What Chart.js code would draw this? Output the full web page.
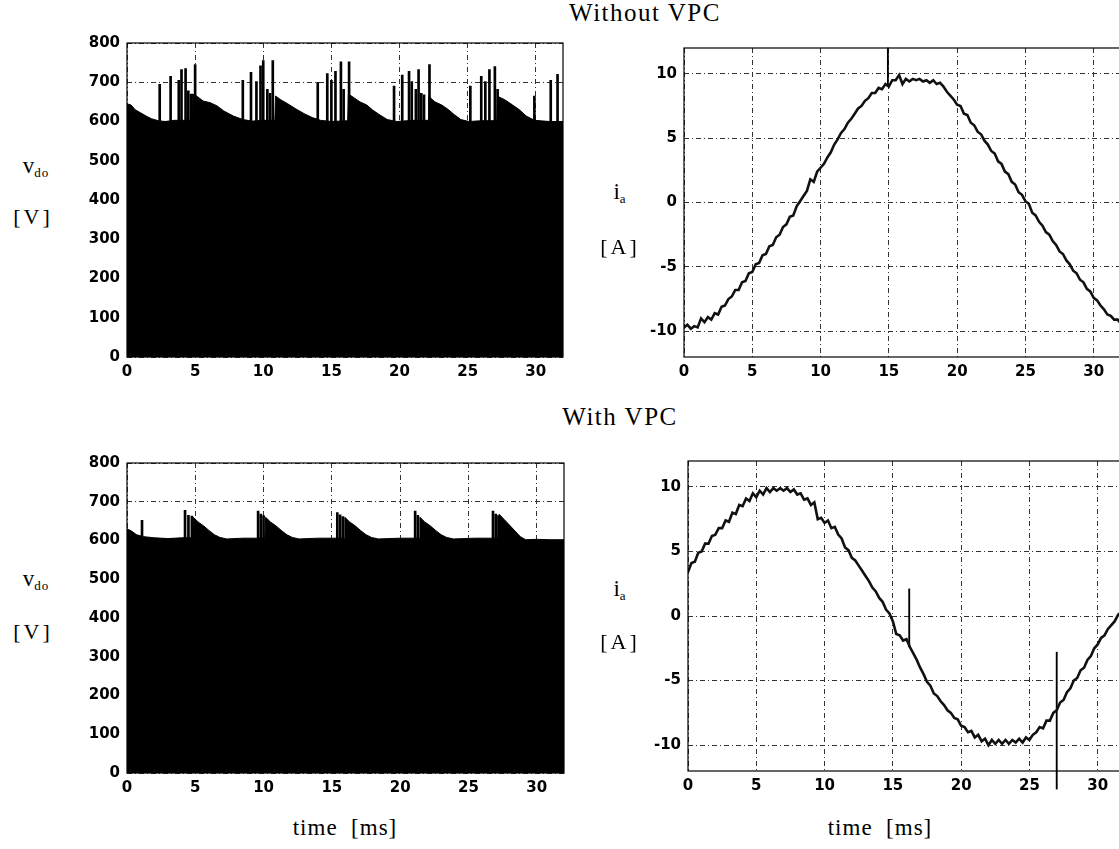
<!DOCTYPE html>
<html>
<head>
<meta charset="utf-8">
<script src="https://cdn.jsdelivr.net/npm/chart.js@4.4.1/dist/chart.umd.min.js"></script>
<style>
html, body { margin: 0; padding: 0; background: #fff; overflow: hidden; width: 1119px; height: 849px; position: relative; }
canvas { position: absolute; }
.t { position: absolute; font-family: "Liberation Serif", "DejaVu Serif", serif; color: #000; white-space: nowrap; transform: translate(-50%, -50%); }
.title { font-size: 25px; letter-spacing: 1.5px; }
.xl { font-size: 23px; letter-spacing: 1px; }
.unit { font-size: 22px; letter-spacing: 3px; }
.sym { font-size: 23px; }
.sym sub { font-size: 13px; vertical-align: -4px; letter-spacing: 1px; }
</style>
</head>
<body>
<div class="t title" style="left:645px;top:13px">Without VPC</div>
<div class="t title" style="left:620px;top:417px">With VPC</div>

<canvas id="vdo1" width="496" height="360" style="left:77px;top:27px"></canvas>
<canvas id="ia1" width="497" height="355" style="left:634px;top:32px"></canvas>
<canvas id="vdo2" width="497" height="356" style="left:77px;top:447px"></canvas>
<canvas id="ia2" width="497" height="356" style="left:638px;top:445px"></canvas>

<div class="t sym" style="left:36px;top:167px">v<sub>do</sub></div>
<div class="t unit" style="left:33px;top:217px">[V]</div>
<div class="t sym" style="left:620px;top:193px">i<sub>a</sub></div>
<div class="t unit" style="left:620px;top:247px">[A]</div>
<div class="t sym" style="left:36px;top:580px">v<sub>do</sub></div>
<div class="t unit" style="left:33px;top:632px">[V]</div>
<div class="t sym" style="left:620px;top:590px">i<sub>a</sub></div>
<div class="t unit" style="left:620px;top:642px">[A]</div>

<div class="t xl" style="left:345px;top:828px">time&nbsp; [ms]</div>
<div class="t xl" style="left:880px;top:828px">time&nbsp; [ms]</div>

<script>
// axis ticks
const xTicks = [0, 5, 10, 15, 20, 25, 30];
const vTicks = [0, 100, 200, 300, 400, 500, 600, 700, 800];
const iTicks = [-10, -5, 0, 5, 10];

// without VPC: dc voltage envelope [ms], [V]
const vdo1T = [0, 0.3, 0.6, 1.0, 1.4, 1.8, 2.3, 2.8, 3.5, 4.3, 4.75, 4.8, 5.1, 5.6, 6.1, 6.6, 7.1, 7.8, 8.5, 9.2,
  10.0, 10.85, 10.9, 11.3, 11.8, 12.4, 13.0, 13.6, 14.2, 15.0, 16.2, 16.25, 16.6, 17.1, 17.6, 18.0, 18.5, 19.1, 19.8, 21.0,
  22.1, 22.15, 22.6, 23.1, 23.6, 24.0, 24.5, 25.1, 26.0, 27.15, 27.2, 27.7, 28.3, 28.8, 29.3, 29.9, 31.0, 32.0];
const vdo1V = [645, 642, 630, 622, 614, 607, 602, 600, 603, 603, 603, 670, 665, 652, 648, 640, 627, 614, 605, 601,
  603, 603, 665, 655, 645, 632, 620, 610, 603, 600, 602, 670, 662, 650, 642, 630, 618, 605, 600, 603,
  603, 664, 650, 642, 630, 618, 605, 600, 602, 602, 664, 656, 642, 630, 614, 603, 600, 600];
// voltage spikes
const vdo1SpikeT = [2.4, 3.2, 3.8, 4.0, 4.3, 4.5, 4.7, 5.0, 8.5, 9.1, 9.5, 9.8, 10.0, 10.3, 10.5, 10.7,
  14.0, 14.7, 15.0, 15.3, 15.7, 15.9, 16.3, 19.6, 20.2, 20.7, 20.9, 21.2, 21.4, 21.6, 21.8, 22.2,
  25.2, 26.0, 26.3, 26.6, 27.0, 27.2, 29.9, 31.1, 31.6];
const vdo1SpikeV = [695, 715, 705, 732, 735, 678, 670, 745, 705, 725, 702, 742, 755, 682, 672, 755,
  700, 722, 705, 728, 752, 682, 752, 690, 718, 728, 702, 682, 732, 672, 668, 745,
  690, 715, 702, 732, 740, 682, 665, 705, 720];

// sample times of the current traces [ms]
const iaT = [0, 0.25, 0.5, 0.75, 1, 1.25, 1.5, 1.75, 2, 2.25, 2.5, 2.75, 3, 3.25, 3.5, 3.75,
  4, 4.25, 4.5, 4.75, 5, 5.25, 5.5, 5.75, 6, 6.25, 6.5, 6.75, 7, 7.25, 7.5, 7.75,
  8, 8.25, 8.5, 8.75, 9, 9.25, 9.5, 9.75, 10, 10.25, 10.5, 10.75, 11, 11.25, 11.5, 11.75,
  12, 12.25, 12.5, 12.75, 13, 13.25, 13.5, 13.75, 14, 14.25, 14.5, 14.75, 15, 15.25, 15.5, 15.75,
  16, 16.25, 16.5, 16.75, 17, 17.25, 17.5, 17.75, 18, 18.25, 18.5, 18.75, 19, 19.25, 19.5, 19.75,
  20, 20.25, 20.5, 20.75, 21, 21.25, 21.5, 21.75, 22, 22.25, 22.5, 22.75, 23, 23.25, 23.5, 23.75,
  24, 24.25, 24.5, 24.75, 25, 25.25, 25.5, 25.75, 26, 26.25, 26.5, 26.75, 27, 27.25, 27.5, 27.75,
  28, 28.25, 28.5, 28.75, 29, 29.25, 29.5, 29.75, 30, 30.25, 30.5, 30.75, 31, 31.25, 31.5, 31.75, 32];

// without VPC: phase current [A]
const ia1A = [-9.7, -9.5, -9.8, -9.6, -9.7, -9.0, -9.3, -8.9, -9.1, -8.6, -8.7, -8.1, -8.0, -7.5, -7.3, -6.8,
  -6.8, -6.2, -6.1, -5.5, -5.4, -4.8, -4.7, -4.1, -4.0, -3.4, -3.3, -2.7, -2.5, -1.9, -1.7, -1.1,
  -1.0, -0.3, 0.1, 0.5, 0.9, 1.8, 1.6, 2.4, 2.7, 3.0, 3.5, 3.9, 4.5, 4.9, 5.4, 5.7,
  6.2, 6.5, 6.9, 7.3, 7.5, 7.9, 8.1, 8.5, 8.5, 8.9, 8.8, 9.2, 9.0, 9.5, 9.5, 9.9,
  9.2, 9.6, 9.4, 9.6, 9.5, 9.6, 9.4, 9.5, 9.3, 9.5, 9.2, 9.3, 9.0, 8.6, 8.3, 8.0,
  7.6, 7.5, 6.9, 6.8, 6.2, 6.0, 5.5, 5.3, 4.8, 4.5, 4.0, 3.8, 3.2, 3.0, 2.4, 2.2,
  1.6, 1.4, 0.8, 0.6, 0.1, -0.1, -0.8, -1.0, -1.5, -1.8, -2.3, -2.5, -3.0, -3.3, -3.8, -4.0,
  -4.5, -4.8, -5.3, -5.5, -6.0, -6.2, -6.7, -6.9, -7.4, -7.6, -8.0, -8.3, -8.7, -8.8, -9.1, -9.1, -9.4];
const ia1SpikeT = [14.93];
const ia1SpikeLo = [9.0];
const ia1SpikeHi = [12];

// with VPC: dc voltage envelope
const vdo2T = [0, 0.3, 0.7, 1.2, 2.0, 3.0, 4.0, 4.8, 4.85, 5.2, 5.6, 6.0, 6.4, 6.8, 7.3, 8.5,
  10.1, 10.15, 10.5, 10.9, 11.3, 11.7, 12.1, 12.6, 14.0, 15.9, 15.95, 16.3, 16.7, 17.1, 17.5, 17.9, 18.4, 20.0,
  21.4, 21.45, 21.8, 22.2, 22.6, 23.0, 23.4, 23.9, 25.5, 27.2, 27.25, 27.6, 28.0, 28.4, 28.8, 29.2, 30.0, 31.0, 32.0];
const vdo2V = [630, 625, 615, 610, 607, 605, 607, 607, 660, 648, 638, 626, 615, 608, 604, 606,
  606, 660, 648, 638, 626, 615, 608, 604, 606, 606, 660, 648, 638, 626, 615, 608, 604, 606,
  606, 660, 648, 638, 626, 615, 608, 604, 606, 606, 668, 655, 640, 625, 610, 602, 603, 602, 602];
const vdo2SpikeT = [1.1, 4.25, 4.5, 4.75, 9.6, 9.8, 10.0, 15.4, 15.6, 15.8, 21.1, 21.3, 26.8, 27.0, 27.2];
const vdo2SpikeV = [652, 678, 665, 663, 676, 668, 664, 672, 666, 662, 676, 665, 676, 668, 664];

// with VPC: phase current
const ia2A = [3.4, 4.1, 4.2, 4.9, 5.0, 5.6, 5.6, 6.2, 6.3, 6.8, 6.8, 7.4, 7.3, 8.0, 7.9, 8.6,
  8.5, 9.1, 8.9, 9.5, 9.2, 9.7, 9.4, 9.9, 9.6, 9.9, 9.7, 9.9, 9.7, 9.9, 9.6, 9.8,
  9.4, 9.5, 9.0, 9.1, 8.6, 8.8, 7.5, 7.6, 7.2, 7.4, 6.8, 6.9, 6.3, 6.0, 5.3, 5.1,
  4.5, 4.3, 3.9, 3.5, 3.1, 2.7, 2.2, 1.9, 1.4, 1.1, 0.5, 0.2, -0.4, -1.4, -1.5, -1.9,
  -1.8, -2.4, -2.9, -3.4, -4.0, -4.5, -5.1, -5.4, -6.0, -6.2, -6.6, -6.9, -7.3, -7.5, -7.9, -8.0,
  -8.5, -8.6, -9.0, -8.9, -9.4, -9.2, -9.7, -9.5, -10.0, -9.6, -9.9, -9.6, -9.9, -9.6, -9.9, -9.6,
  -9.8, -9.5, -9.8, -9.4, -9.6, -9.2, -9.0, -8.6, -8.7, -8.1, -8.1, -7.5, -7.3, -6.7, -6.5, -5.9,
  -5.6, -5.0, -4.8, -4.2, -4.0, -3.4, -3.1, -2.5, -2.2, -1.7, -1.5, -1.0, -0.7, -0.4, 0.1, 0.3, 0.8];
const ia2SpikeT = [16.2, 27.0];
const ia2SpikeLo = [-2.4, -13.4];
const ia2SpikeHi = [2.1, -2.8];

const pts = (ts, vs) => ts.map((t, i) => ({x: t, y: vs[i]}));
const bars = (ts, lo, hi) => ts.map((t, i) => ({x: t, y: [lo[i], hi[i]]}));

const tickFont = {family: 'DejaVu Sans', weight: 'bold', size: 15};

// box round the plot area
const frame = {
  id: 'frame',
  afterDatasetsDraw(chart) {
    const {ctx, chartArea: a} = chart;
    ctx.save();
    ctx.strokeStyle = '#000';
    ctx.lineWidth = 1.2;
    ctx.strokeRect(a.left, a.top, a.right - a.left, a.bottom - a.top);
    ctx.restore();
  }
};

function makeChart(id, datasets, yMin, yMax, yTicks) {
  return new Chart(document.getElementById(id), {
    type: 'line',
    data: {datasets},
    options: {
      responsive: false,
      animation: false,
      layout: {padding: {top: 10, right: 10, left: 0, bottom: 0}},
      plugins: {legend: {display: false}, tooltip: {enabled: false}},
      scales: {
        x: {
          type: 'linear', min: 0, max: 32, offset: false,
          afterBuildTicks: s => { s.ticks = xTicks.map(v => ({value: v})); },
          afterFit: s => { s.height = 30; },
          grid: {color: '#333', lineWidth: 1, drawTicks: false, offset: false},
          border: {display: false, dash: [5, 3, 1, 3]},
          ticks: {color: '#000', padding: 6, maxRotation: 0, font: tickFont}
        },
        y: {
          type: 'linear', min: yMin, max: yMax,
          afterBuildTicks: s => { s.ticks = yTicks.map(v => ({value: v})); },
          afterFit: s => { s.width = 50; },
          grid: {color: '#333', lineWidth: 1, drawTicks: false, offset: false},
          border: {display: false, dash: [5, 3, 1, 3]},
          ticks: {color: '#000', padding: 7, font: tickFont}
        }
      }
    },
    plugins: [frame]
  });
}

function voltageSets(t, v, st, sv) {
  return [
    {type: 'line', data: pts(t, v), borderColor: '#000', borderWidth: 1, backgroundColor: '#000',
     fill: 'origin', pointRadius: 0, tension: 0},
    {type: 'bar', data: pts(st, sv), backgroundColor: '#000', barThickness: 2, grouped: false}
  ];
}

function currentSets(t, a, st, lo, hi) {
  return [
    {type: 'line', data: pts(t, a), borderColor: '#111', borderWidth: 2.6, fill: false, pointRadius: 0, tension: 0},
    {type: 'bar', data: bars(st, lo, hi), backgroundColor: '#000', barThickness: 1.2, grouped: false, clip: false}
  ];
}

makeChart('vdo1', voltageSets(vdo1T, vdo1V, vdo1SpikeT, vdo1SpikeV), 0, 800, vTicks);
makeChart('ia1', currentSets(iaT, ia1A, ia1SpikeT, ia1SpikeLo, ia1SpikeHi), -12, 12, iTicks);
makeChart('vdo2', voltageSets(vdo2T, vdo2V, vdo2SpikeT, vdo2SpikeV), 0, 800, vTicks);
makeChart('ia2', currentSets(iaT, ia2A, ia2SpikeT, ia2SpikeLo, ia2SpikeHi), -12, 12, iTicks);
</script>
</body>
</html>
